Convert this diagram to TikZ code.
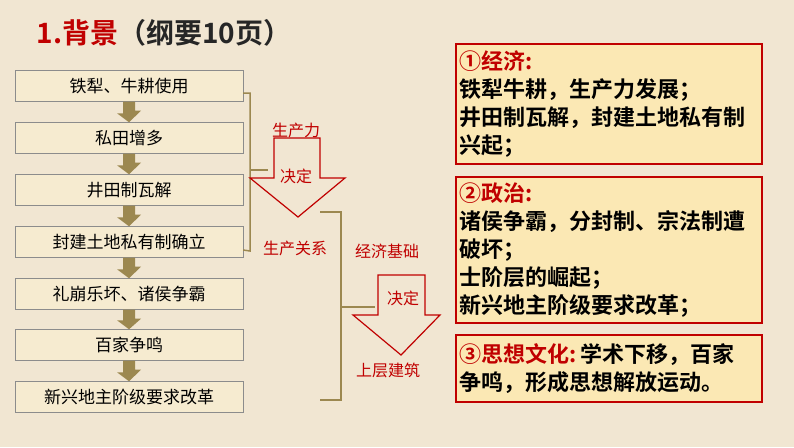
\documentclass[tikz,border=0pt]{standalone}
\usepackage{fontspec}
\setmainfont{Noto Sans CJK SC}
\newfontfamily\cjkbold{Noto Sans CJK SC Bold}
\usetikzlibrary{calc}
\usetikzlibrary{arrows}
\definecolor{paper}{HTML}{F1E6D2}
\definecolor{boxfill}{HTML}{F6EBD0}
\definecolor{olive}{HTML}{9C8850}
\definecolor{deepred}{HTML}{C00000}
\definecolor{notefill}{HTML}{FBE8B4}
\tikzset{
  stepbox/.style={draw=black!45,fill=boxfill,minimum width=228pt,minimum height=31pt,
    font=\fontsize{17pt}{19pt}\selectfont,inner sep=0pt},
  notebox/.style={draw=deepred,line width=1.5pt,fill=notefill,anchor=north west,
    text width=298pt,inner sep=4pt,align=left,
    font=\cjkbold\fontsize{22pt}{28pt}\selectfont},
  redlabel/.style={text=deepred,font=\fontsize{16pt}{18pt}\selectfont},
  decide/.style={draw=deepred,line width=1.2pt},
  linker/.style={draw=olive,line width=1.5pt}
}
\begin{document}
\begin{tikzpicture}[x=1pt,y=-1pt]
   % Background.
   \fill[paper] (0,0) rectangle (794,447);
   \useasboundingbox (0,0) rectangle (794,447);
   % Title.
   \node[anchor=west,font=\cjkbold\fontsize{28pt}{30pt}\selectfont] (title) at (33,33)
     {\textcolor{deepred}{1.背景}\textcolor{black!85}{（纲要10页）}};
   % Steps.
   \foreach \y/\t [count=\i] in {86/铁犁、牛耕使用, 138/私田增多, 190/井田制瓦解,
       242/封建土地私有制确立, 294/礼崩乐坏、诸侯争霸, 345/百家争鸣, 397/新兴地主阶级要求改革}
     \node[stepbox] (s\i) at (129,\y) {\t};
   \foreach \i [evaluate=\i as \j using int(\i+1)] in {1,...,6}
     \fill[olive] ($(s\i.south)+(-6,0)$) -- ++(12,0) -- ++(0,9) -- ++(6,0)
       -- ($(s\j.north)+(0,0)$) -- ++(-12,-9) -- ++(6,0) -- cycle;
   % Brackets.
   \draw[linker] ($(s1.east)+(0,7)$) -| (250,251) -- ($(s4.east)+(0,8)$);
   \draw[linker] (250,170) -- (268,170);
   \draw[linker] (320,212) -| (341,400) -- (320,400);
   \draw[linker] (341,307) -- (375,307);
   % Decide arrows.
   \draw[decide] (274,138) -- (320,138) -- (320,178) -- (345,178) -- (298,217)
     -- (250,178) -- (274,178) -- cycle;
   \draw[decide] (378,275) -- (425,275) -- (425,315) -- (440,315) -- (401,355)
     -- (353,315) -- (378,315) -- cycle;
   % Labels.
   \node[redlabel] (force) at (296,130) {生产力};
   \node[redlabel] (dec1) at (296,176) {决定};
   \node[redlabel] (rel) at (295,248) {生产关系};
   \node[redlabel] (base) at (387,251) {经济基础};
   \node[redlabel] (dec2) at (403,298) {决定};
   \node[redlabel] (super) at (388,370) {上层建筑};
   % Notes.
   \node[notebox,minimum height=120pt] (econ) at (455,43)
     {\textcolor{deepred}{①经济:}\\铁犁牛耕，生产力发展；\\井田制瓦解，封建土地私有制\\兴起；};
   \node[notebox,minimum height=146pt] (poli) at (455,176)
     {\textcolor{deepred}{②政治:}\\诸侯争霸，分封制、宗法制遭\\破坏；\\士阶层的崛起；\\新兴地主阶级要求改革；};
   \node[notebox,minimum height=67pt] (cult) at (455,334)
     {\textcolor{deepred}{③思想文化:}\,学术下移，百家\\争鸣，形成思想解放运动。};
\end{tikzpicture}
\end{document}
